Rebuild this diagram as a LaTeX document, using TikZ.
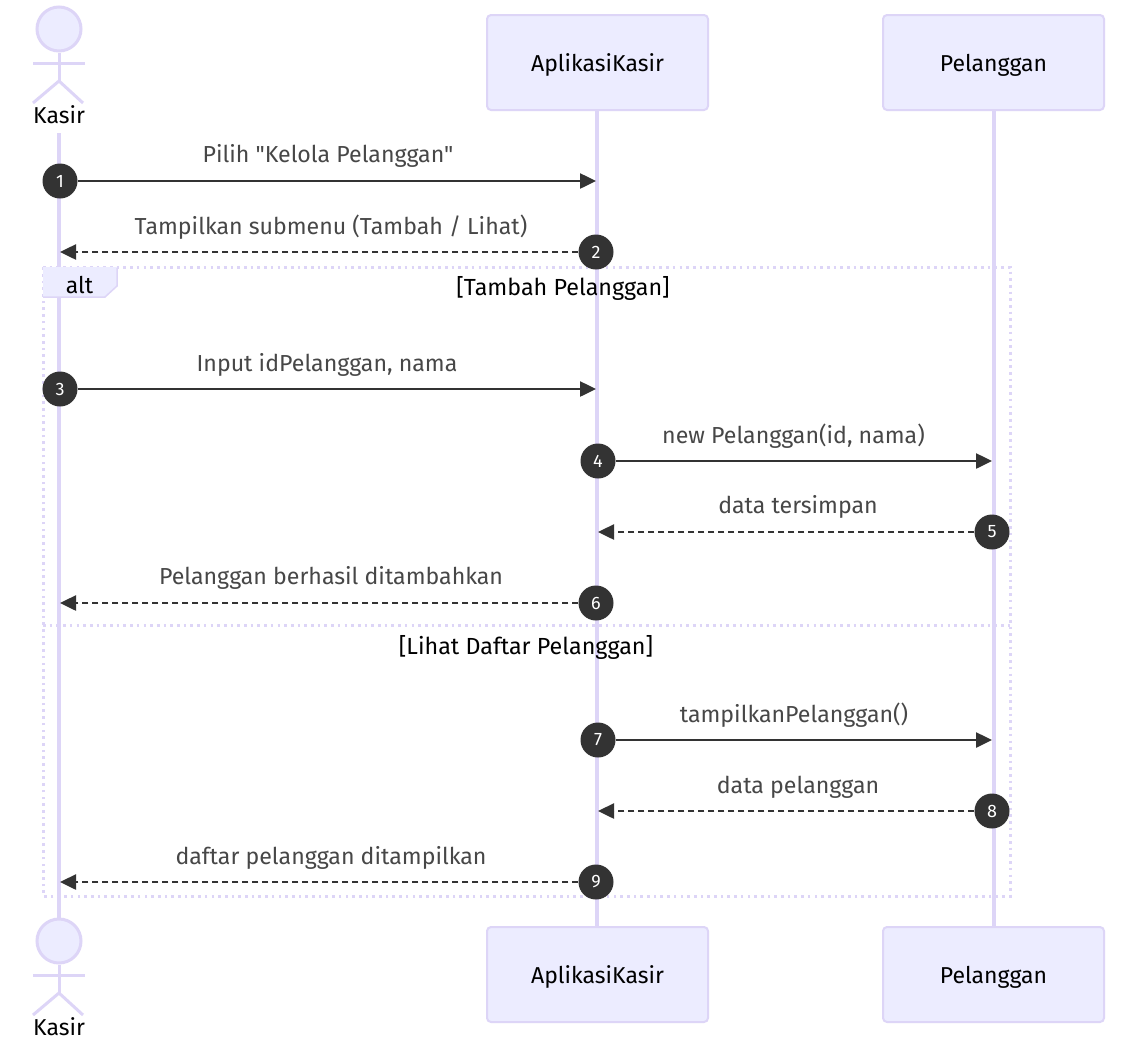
\documentclass[tikz,border=0pt]{standalone}
\usepackage{fontspec}
\setmainfont{Fira Sans}
\newfontfamily\rawfont{Fira Sans}
\usetikzlibrary{arrows.meta}
\definecolor{lav}{HTML}{DDD5F7}
\definecolor{boxfill}{HTML}{ECECFF}
\definecolor{ink}{HTML}{333333}
\tikzset{
  x=1pt,y=-1pt,
  txt/.style={font=\rawfont\fontsize{23}{27}\selectfont,inner sep=0pt,text=black},
  msglabel/.style={font=\rawfont\fontsize{23.15}{27}\selectfont,inner sep=0pt,text=ink!90!white},
  framelabel/.style={font=\rawfont\fontsize{23.3}{27}\selectfont,inner sep=0pt,text=black},
  actorbox/.style={draw=lav,line width=2pt,fill=boxfill,rounded corners=4pt,minimum width=221pt,minimum height=95pt,inner sep=0pt,text height=17pt,text depth=0pt,font=\rawfont\fontsize{23}{27}\selectfont},
  lifeline/.style={draw=lav,line width=3.2pt},
  stick/.style={draw=lav,line width=3pt},
  head/.style={draw=lav,line width=3pt,fill=boxfill,circle,minimum size=44pt,inner sep=0pt},
  frameline/.style={draw=lav,line width=3pt,dash pattern=on 2.6pt off 4.1pt},
  badge/.style={circle,fill=ink,text=white,minimum size=35pt,inner sep=0pt,font=\rawfont\fontsize{18}{20}\selectfont},
  solidmsg/.style={draw=ink,line width=2.5pt,-{Triangle[length=16pt,width=15pt]}},
  dashmsg/.style={draw=ink,line width=2.5pt,dash pattern=on 6pt off 4pt,-{Triangle[length=16pt,width=15pt]}},
}
\newcommand{\stickfig}[3]{% name, y offset, label
  \node[head] (#1head) at (59,29+#2) {};
  \coordinate (#1neck) at (59,52+#2);
  \coordinate (#1hip) at (59,81+#2);
  \coordinate (#1la) at (33,63+#2);
  \coordinate (#1ra) at (85,63+#2);
  \coordinate (#1ll) at (33,103+#2);
  \coordinate (#1rl) at (83,103+#2);
  \draw[stick] (#1head) -- (#1hip);
  \draw[stick] (#1la) -- (#1ra);
  \draw[stick] (#1ll) -- (#1hip) -- (#1rl);
  \node[txt] (#1lab) at (59,115+#2) {#3};
}
\begin{document}
\begin{tikzpicture}
\path[use as bounding box,fill=white] (0,0) rectangle (1132,1039);
% lifeline anchors
\coordinate (l1top) at (59,133);
\coordinate (l1bot) at (59,925);
\coordinate (l2top) at (597,110);
\coordinate (l2bot) at (597,927);
\coordinate (l3top) at (994,110);
\coordinate (l3bot) at (994,927);
\draw[lifeline] (l1top) -- (l1bot);
\draw[lifeline] (l2top) -- (l2bot);
\draw[lifeline] (l3top) -- (l3bot);
% actors and boxes
\stickfig{kt}{0}{Kasir}
\stickfig{kb}{912}{Kasir}
\node[actorbox] (at) at (597.5,62.5) {AplikasiKasir};
\node[actorbox] (pt) at (993.5,62.5) {Pelanggan};
\node[actorbox] (ab) at (597.5,974.5) {AplikasiKasir};
\node[actorbox] (pb) at (993.5,974.5) {Pelanggan};
% alt frame
\coordinate (f1) at (43,267);
\coordinate (f2) at (1010,267);
\coordinate (f3) at (1010,896);
\coordinate (f4) at (43,896);
\coordinate (d1) at (43,625);
\coordinate (d2) at (1010,625);
\draw[frameline] (f1) -- (f2) -- (f3) -- (f4) -- cycle;
\draw[frameline] (d1) -- (d2);
\fill[boxfill] (43,267) -- (117,267) -- (117,286) -- (105,297) -- (43,297) -- cycle;
\draw[draw=lav,line width=1.5pt] (117,268) -- (117,286) -- (105,297) -- (43,297);
\node[txt] (altlab) at (79.5,285) {alt};
\node[framelabel] (c1) at (563,288) {[Tambah Pelanggan]};
\node[framelabel] (c2) at (526,647) {[Lihat Daftar Pelanggan]};
% labels
\node[msglabel] (m1) at (328,156) {Pilih "Kelola Pelanggan"};
\node[msglabel] (m2) at (331,227) {Tampilkan submenu (Tambah / Lihat)};
\node[msglabel] (m3) at (327,365) {Input idPelanggan, nama};
\node[msglabel] (m4) at (793.5,436) {new Pelanggan(id, nama)};
\node[msglabel] (m5) at (798,507) {data tersimpan};
\node[msglabel] (m6) at (331,578) {Pelanggan berhasil ditambahkan};
\node[msglabel] (m7) at (794,715) {tampilkanPelanggan()};
\node[msglabel] (m8) at (798,787) {data pelanggan};
\node[msglabel] (m9) at (331,858) {daftar pelanggan ditampilkan};
% badges
\node[badge] (b1) at (60,181) {1};
\node[badge] (b2) at (596,252) {2};
\node[badge] (b3) at (60,389) {3};
\node[badge] (b4) at (598,461) {4};
\node[badge] (b5) at (992,532) {5};
\node[badge] (b6) at (596,603) {6};
\node[badge] (b7) at (598,740) {7};
\node[badge] (b8) at (992,811) {8};
\node[badge] (b9) at (596,882) {9};
% targets
\coordinate (t1) at (596,181);
\coordinate (t2) at (60,252);
\coordinate (t3) at (596,389);
\coordinate (t4) at (992,461);
\coordinate (t5) at (598,532);
\coordinate (t6) at (60,603);
\coordinate (t7) at (992,740);
\coordinate (t8) at (598,811);
\coordinate (t9) at (60,882);
\draw[solidmsg] (b1) -- (t1);
\draw[dashmsg] (b2) -- (t2);
\draw[solidmsg] (b3) -- (t3);
\draw[solidmsg] (b4) -- (t4);
\draw[dashmsg] (b5) -- (t5);
\draw[dashmsg] (b6) -- (t6);
\draw[solidmsg] (b7) -- (t7);
\draw[dashmsg] (b8) -- (t8);
\draw[dashmsg] (b9) -- (t9);
\end{tikzpicture}
\end{document}
